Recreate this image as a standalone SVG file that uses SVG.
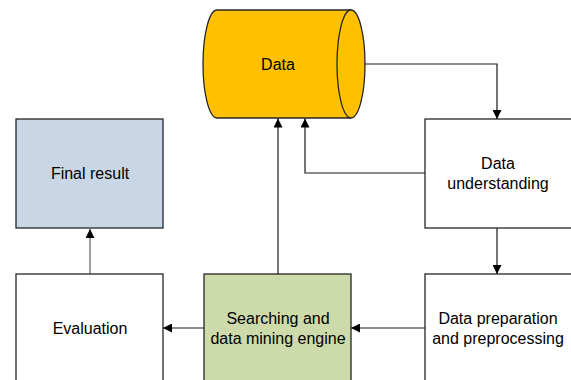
<svg xmlns="http://www.w3.org/2000/svg" width="571" height="380" viewBox="0 0 571 380">
  <style>
    .box { stroke: #262626; stroke-width: 1.3; }
    .lbl { font-family: "Liberation Sans", Arial, sans-serif; font-size: 16px; fill: #000; text-anchor: middle; }
    .link { fill: none; stroke: #1a1a1a; stroke-width: 1.2; }
    .link-gray { fill: none; stroke: #7f7f7f; stroke-width: 1.5; }
  </style>
  <defs>
    <marker id="arrowL" viewBox="0 0 10 10" refX="10" refY="5" markerWidth="9" markerHeight="9" markerUnits="userSpaceOnUse" orient="auto">
      <path d="M0,0 L10,5 L0,10 Z" fill="#000"/>
    </marker>
  </defs>
  <rect width="571" height="380" fill="#fff"/>

  <g id="connectors">
    <!-- Data -> Data understanding -->
    <polyline class="link" points="365,64 497,64 497,119" marker-end="url(#arrowL)"/>
    <!-- Data understanding -> Data -->
    <polyline class="link" points="425,173 305,173 305,118.5" marker-end="url(#arrowL)"/>
    <!-- Data understanding -> Data preparation -->
    <line class="link" x1="497" y1="228" x2="497" y2="274" marker-end="url(#arrowL)"/>
    <!-- Data preparation -> Searching -->
    <line class="link" x1="425" y1="328" x2="351" y2="328" marker-end="url(#arrowL)"/>
    <!-- Searching -> Data -->
    <line class="link" x1="278" y1="274" x2="278" y2="118.5" marker-end="url(#arrowL)"/>
    <!-- Searching -> Evaluation -->
    <line class="link" x1="204" y1="328" x2="163" y2="328" marker-end="url(#arrowL)"/>
    <!-- Evaluation -> Final result -->
    <line class="link-gray" x1="90" y1="274" x2="90" y2="229" marker-end="url(#arrowL)"/>
  </g>

  <g id="data">
    <path class="box" fill="#ffc000" d="M217,10 L351,10 A14,54 0 0 1 351,118 L217,118 A14,54 0 0 1 217,10 Z"/>
    <path class="box" fill="none" d="M351,10 A14,54 0 0 0 351,118"/>
    <text class="lbl" x="278" y="69.5">Data</text>
  </g>

  <g id="data-understanding">
    <rect class="box" fill="#fff" x="425" y="119" width="150" height="109"/>
    <text class="lbl" x="498" y="169">Data</text>
    <text class="lbl" x="498" y="189">understanding</text>
  </g>

  <g id="data-preparation">
    <rect class="box" fill="#fff" x="425" y="274" width="150" height="110"/>
    <text class="lbl" x="498" y="323.5">Data preparation</text>
    <text class="lbl" x="498" y="343.5">and preprocessing</text>
  </g>

  <g id="searching">
    <rect class="box" fill="#cddaa9" x="204" y="274" width="147" height="110"/>
    <text class="lbl" x="278" y="323.5">Searching and</text>
    <text class="lbl" x="278" y="343.5">data mining engine</text>
  </g>

  <g id="evaluation">
    <rect class="box" fill="#fff" x="16" y="274" width="147" height="110"/>
    <text class="lbl" x="90" y="333.5">Evaluation</text>
  </g>

  <g id="final-result">
    <rect class="box" fill="#c9d6e5" x="16" y="119" width="147" height="109"/>
    <text class="lbl" x="90" y="179">Final result</text>
  </g>
</svg>
